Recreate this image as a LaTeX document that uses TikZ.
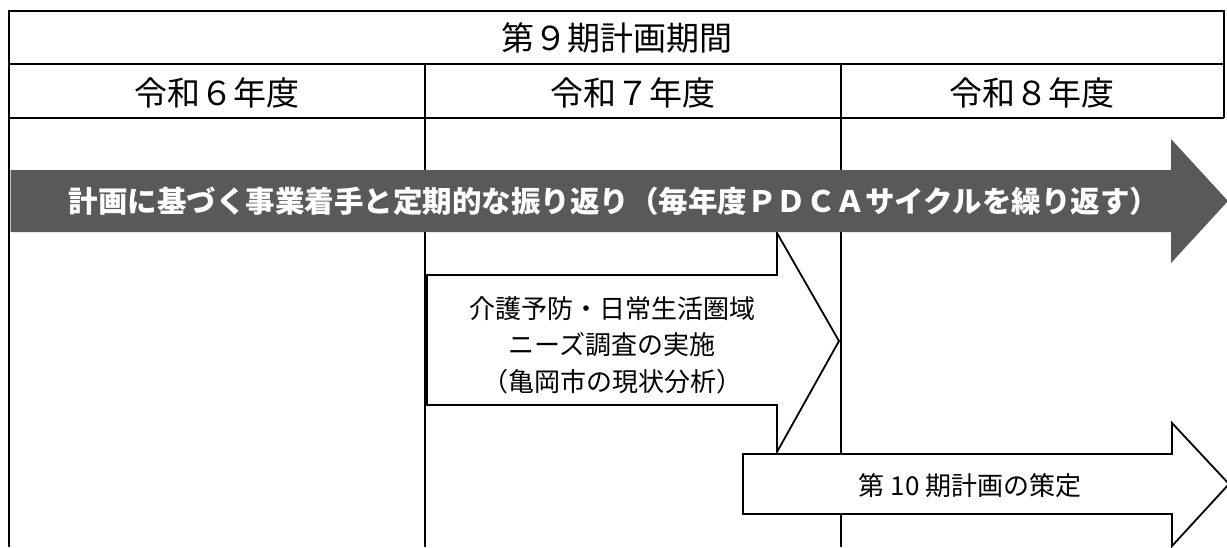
\documentclass[tikz,border=0pt]{standalone}
\usepackage{fontspec}
\setmainfont{Noto Sans CJK JP}
\definecolor{bandgray}{HTML}{595959}
\begin{document}
\begin{tikzpicture}[x=1pt,y=-1pt,
  tline/.style={line width=1.5pt, draw=black},
  outarrow/.style={draw=black, fill=white, line width=1.8pt, line join=miter},
  headtext/.style={inner sep=0pt, font=\fontsize{33}{40}\selectfont},
  bandtext/.style={inner sep=0pt, text=white, font=\bfseries\fontsize{29.5}{36}\selectfont},
  boxtext/.style={inner sep=0pt, align=center, font=\fontsize{26}{36.5}\selectfont}]
\useasboundingbox (0,0) rectangle (1227,547);
\fill[white] (0,0) rectangle (1227,547);

% table grid
\draw[tline] (9,547) -- (9,11) -- (1224,11) -- (1224,118);
\draw[tline] (9,64) -- (1224,64);
\draw[tline] (9,118) -- (1224,118);
\draw[tline] (425,64) -- (425,547);
\draw[tline] (841,64) -- (841,547);

% header texts
\node[headtext] (title) at (617,38) {第９期計画期間};
\node[headtext] (y6) at (217,93) {令和６年度};
\node[headtext] (y7) at (633,93) {令和７年度};
\node[headtext] (y8) at (1032,93) {令和８年度};

% survey arrow
\draw[outarrow] (427,275) -- (777,275) -- (777,233) -- (839,341) -- (777,452) -- (777,405) -- (427,405) -- cycle;
\node[boxtext] (survey) at (612,345) {介護予防・日常生活圏域\\ニーズ調査の実施\\（亀岡市の現状分析）};

% gray band arrow
\fill[bandgray] (10.5,170) -- (1171,170) -- (1171,139) -- (1228,201) -- (1171,263) -- (1171,232) -- (10.5,232) -- cycle;
\node[bandtext] (band) at (614,201) {計画に基づく事業着手と定期的な振り返り（毎年度ＰＤＣＡサイクルを繰り返す）};

% next plan arrow
\draw[outarrow] (743,454) -- (1172,454) -- (1172,423) -- (1229,484) -- (1172,546) -- (1172,514) -- (743,514) -- cycle;
\node[boxtext] (plan10) at (970,486) {第 10 期計画の策定};
\end{tikzpicture}
\end{document}
